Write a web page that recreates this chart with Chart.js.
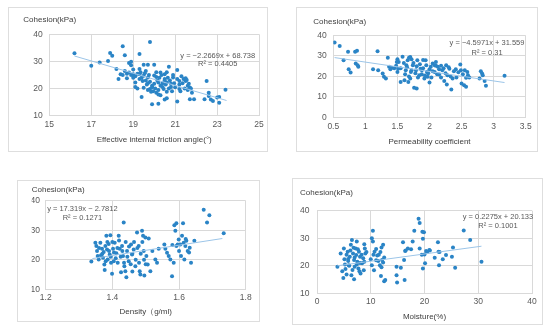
<!DOCTYPE html>
<html><head><meta charset="utf-8">
<script src="https://cdn.jsdelivr.net/npm/chart.js@4"></script>
<style>
html,body{margin:0;padding:0;background:#fff;}
body{width:550px;height:331px;position:relative;overflow:hidden;}
.frame{position:absolute;box-sizing:border-box;border:1px solid #dedede;pointer-events:none;}
canvas{position:absolute;}
</style></head><body>
<script>
// ---------- DATA ----------
const yTitle = "Cohesion(kPa)";

// Panel 1: effective internal friction angle
const angleTitle = "Effective internal friction angle(°)";
const angleX = [16.2,17.0,17.4,17.8,17.9,18.0,18.2,18.3,18.4,18.5,18.6,18.7,18.6,18.8,18.9,18.8,18.9,19.0,19.1,19.1,19.3,19.3,19.3,19.4,19.5,19.5,19.6,19.7,19.7,19.8,19.8,19.9,19.9,20.0,20.1,20.1,20.2,20.2,20.3,20.4,20.5,20.5,20.6,20.6,20.7,20.8,20.9,21.1,21.1,21.2,21.2,21.4,21.5,21.6,21.7,21.7,21.9,22.4,22.5,22.6,22.6,22.8,23.0,23.1,23.1,23.4,
  18.9,19.0,19.1,19.2,19.3,19.35,19.4,19.45,19.55,19.6,19.65,19.7,19.75,19.8,19.85,19.9,19.95,20.0,20.0,20.05,20.1,20.15,20.2,20.25,20.3,20.3,20.35,20.4,20.45,20.5,20.55,20.6,20.6,20.65,20.7,20.75,20.8,20.85,20.9,20.95,21.0,21.1,21.2,21.25,21.3,21.35,21.45,21.5,21.55,21.6,21.65,21.75,21.8,19.5,19.7,20.2,20.5,22.7,19.2,18.5,18.7,19.0];
const angleY = [33.0,28.4,29.6,30.2,33.1,32.1,27.2,23.5,25.3,35.6,32.3,23.8,26.5,29.4,29.9,25.9,28.6,25.3,22.2,20.6,27.2,32.7,25.3,16.9,24.7,28.8,26.5,24.1,28.8,37.2,19.8,21.0,14.2,28.8,24.3,18.5,14.4,22.2,25.9,20.6,23.5,25.3,16.4,22.2,28.0,20.6,24.1,15.2,26.8,22.8,19.8,23.5,23.8,21.0,16.1,20.4,16.1,16.1,22.8,18.5,17.3,15.4,16.7,16.9,14.8,19.6,
  25.0,27.0,24.5,25.5,23.5,26.0,24.0,22.8,25.6,23.0,21.5,19.5,25.0,22.5,18.8,20.5,19.0,24.8,21.8,20.0,26.0,23.0,19.5,24.0,21.0,17.5,25.0,22.0,19.8,23.0,21.5,26.0,18.8,24.0,20.0,23.0,21.8,19.0,25.0,22.0,20.5,23.5,21.5,19.0,24.5,22.0,20.0,22.8,23.2,19.5,21.8,20.0,18.5,20.3,22.0,17.8,16.0,16.0,20.0,25.0,25.5,24.0];
const angleTicksX = [15,17,19,21,23,25];
const angleTicksY = [10,20,30,40];
const angleTrendX = [16.2,23.45];
const angleTrendY = [32.0,15.6];
const angleEq = ["y = −2.2669x + 68.738","R² = 0.4405"];

// Panel 2: permeability coefficient
const permTitle = "Permeability coefficient";
const permX = [0.52,0.60,0.66,0.73,0.74,0.77,0.84,0.87,0.85,0.88,0.89,1.12,1.19,1.20,1.27,1.29,1.32,1.35,1.37,1.39,1.41,1.48,1.49,1.50,1.50,1.51,1.55,1.58,1.61,1.63,1.64,1.66,1.67,1.68,1.70,1.71,1.72,1.74,1.76,1.79,1.80,1.81,1.84,1.86,1.88,1.92,1.94,1.96,1.97,2.00,2.02,2.05,2.08,2.10,2.13,2.15,2.18,2.20,2.23,2.26,2.28,2.31,2.34,2.36,2.41,2.48,2.49,2.50,2.54,2.57,2.59,2.60,2.57,2.78,2.80,2.82,2.83,2.86,2.88,3.17,
  1.52,1.55,1.60,1.62,1.65,1.68,1.72,1.75,1.78,1.80,1.82,1.85,1.88,1.90,1.93,1.95,1.98,2.00,2.03,2.05,2.08,2.12,2.15,2.18,2.22,2.25,2.30,2.33,2.38,2.42,2.45,2.52,2.55,2.62,1.45,1.70,1.90,2.10,2.27];
const permY = [36.6,34.9,27.9,32.0,23.5,21.9,32.0,32.5,26.3,25.5,24.7,23.5,32.3,23.0,21.4,19.8,19.0,29.1,24.7,23.5,24.2,25.2,27.1,28.4,22.2,23.8,17.3,29.6,18.1,23.0,25.5,27.9,17.3,29.1,19.0,22.2,28.4,25.5,14.4,23.0,14.1,27.9,20.6,23.8,23.0,19.0,27.9,22.2,19.8,17.0,24.7,26.3,22.2,25.2,24.7,20.9,25.2,23.0,17.7,25.5,20.6,23.8,13.6,19.0,23.5,25.8,23.0,16.5,15.7,14.9,22.2,20.6,19.3,19.0,22.5,21.4,20.6,17.7,15.4,20.3,
  27.0,24.0,26.5,21.0,24.5,20.0,23.0,26.5,21.5,25.0,19.5,26.0,21.0,24.0,20.5,25.5,21.5,23.5,19.5,22.5,25.5,21.0,23.5,19.5,24.0,21.5,24.5,20.0,22.5,19.5,22.0,21.0,23.0,19.5,24.0,29.5,28.0,27.0,16.0];
const permTicksX = [0.5,1,1.5,2,2.5,3,3.5];
const permTicksY = [0,10,20,30,40];
const permTrendX = [0.52,3.17];
const permTrendY = [29.2,17.0];
const permEq = ["y = −4.5971x + 31.559","R² = 0.31"];

// Panel 3: density
const densTitle = "Density（g/ml)";
const densX = [1.337,1.349,1.352,1.354,1.356,1.359,1.364,1.366,1.369,1.372,1.374,1.376,1.377,1.379,1.382,1.384,1.386,1.389,1.392,1.394,1.396,1.399,1.402,1.404,1.407,1.412,1.416,1.419,1.422,1.426,1.429,1.432,1.434,1.436,1.439,1.442,1.444,1.449,1.456,1.459,1.464,1.469,1.474,1.479,1.482,1.484,1.489,1.492,1.494,1.496,1.499,1.502,1.506,1.509,1.514,1.529,1.534,1.539,1.556,1.559,1.564,1.569,1.574,1.579,1.584,1.586,1.592,1.589,1.592,1.596,1.599,1.604,1.606,1.609,1.612,1.614,1.616,1.619,1.622,1.626,1.632,1.636,1.646,1.674,1.684,1.691,1.734,
  1.36,1.37,1.38,1.385,1.39,1.395,1.40,1.405,1.41,1.415,1.42,1.425,1.43,1.435,1.44,1.445,1.45,1.455,1.46,1.465,1.47,1.475,1.48,1.485,1.49,1.495,1.50,1.46,1.52,1.60,1.58,1.62,1.63];
const densY = [19.4,25.8,24.7,23.0,21.3,20.1,25.8,21.5,23.75,20.7,22.6,18.4,16.5,24.7,28.1,23.5,20.1,25.3,21.8,28.3,19.0,15.3,23.75,19.5,25.8,22.2,19.0,28.1,23.75,15.8,24.7,21.3,32.6,17.8,16.1,14.1,23.0,19.5,25.2,21.8,23.5,17.8,29.2,24.7,16.1,15.0,29.8,28.1,23.0,14.7,27.5,21.3,18.4,27.2,16.1,20.1,19.0,23.75,25.2,23.75,22.4,21.3,20.1,14.4,19.0,31.7,32.4,29.8,24.7,25.2,26.9,25.2,21.3,28.1,32.4,25.8,20.1,24.7,26.4,23.0,24.1,19.0,26.4,36.9,32.6,35.1,29.0,
  24.0,22.0,19.5,26.0,23.0,21.0,26.0,22.5,20.5,24.0,26.5,21.0,23.0,19.0,26.0,21.0,24.5,18.5,22.0,26.0,20.0,24.0,19.0,22.0,26.0,20.0,18.5,16.0,23.0,23.0,25.0,27.0,22.5];
const densTicksX = [1.2,1.4,1.6,1.8];
const densTicksY = [10,20,30,40];
const densTrendX = [1.34,1.73];
const densTrendY = [20.4,27.2];
const densEq = ["y = 17.319x − 2.7812","R² = 0.1271"];

// Panel 4: moisture
const moistTitle = "Moisture(%)";
const moistX = [3.8,4.4,4.7,4.9,5.0,5.1,5.2,5.3,5.5,5.7,5.8,5.9,6.1,6.3,6.4,6.5,6.7,6.9,6.9,7.0,7.2,7.3,7.4,7.5,7.7,7.8,8.0,8.1,8.4,8.6,8.8,8.9,8.7,9.0,10.4,10.2,10.4,10.0,10.2,10.6,10.7,11.0,11.2,11.4,11.5,11.7,11.9,12.0,12.1,12.3,12.3,12.5,12.7,14.8,14.8,14.9,15.6,16.0,16.2,16.3,16.4,16.9,17.8,18.1,18.9,19.1,19.1,19.6,19.7,19.7,19.9,20.0,20.1,20.3,20.9,21.9,22.5,22.6,22.7,23.4,24.0,25.1,25.3,25.7,27.3,28.5,30.6,
  5.5,6.0,6.2,6.6,7.0,7.4,7.6,8.0,8.3,8.8,9.2,5.8,6.8,7.9,11.0,11.8,12.5,10.5,12.0,16.5,17.5,20.5,22.8,19.5,21.0];
const moistY = [19.6,24.5,18.0,15.6,26.3,22.4,20.5,18.8,16.8,25.1,21.7,20.2,23.3,27.6,16.6,29.4,24.5,22.1,15.1,19.6,26.3,23.9,28.8,21.5,19.0,25.1,23.3,17.2,20.9,22.7,27.8,26.3,18.4,24.5,32.7,30.0,28.8,22.4,20.2,18.4,25.1,26.1,23.7,21.7,24.0,20.2,16.3,26.6,22.1,27.6,21.2,14.4,14.8,19.6,16.6,13.9,19.3,28.5,22.1,14.8,25.4,26.3,28.8,32.7,37.1,35.5,26.3,32.4,29.8,19.0,32.2,24.1,20.9,25.4,25.7,22.9,28.5,25.1,20.2,22.4,23.9,23.3,26.6,19.3,32.8,29.4,21.5,
  24.0,20.0,25.5,18.5,23.0,20.5,26.0,21.0,24.0,21.5,25.0,22.5,26.5,18.0,22.0,25.0,23.0,24.0,19.5,25.5,26.0,25.0,25.0,24.0,25.5];
const moistTicksX = [0,10,20,30,40];
const moistTicksY = [10,20,30,40];
const moistTrendX = [3.8,30.6];
const moistTrendY = [20.0,27.1];
const moistEq = ["y = 0.2275x + 20.133","R² = 0.1001"];

// ---------- LAYOUT / STYLE ----------
const FONT = "'Liberation Sans', Arial, sans-serif";
const DOT = '#2A84C6';
const TREND = '#9CC5E8';
const GRID = '#d9d9d9';

const panels = [
  {xs:angleX, ys:angleY, tx:angleTicksX, ty:angleTicksY, trX:angleTrendX, trY:angleTrendY, eq:angleEq, xTitle:angleTitle,
   box:{x:8,y:7,w:260,h:145}, plot:{l:49.3,r:259.5,t:34.3,b:115.7}, titleX:23.3, titleCY:20, xTitleCY:140, tickCY:125, yGap:6.5,
   eqPos:{x:23.03, y1:32.1, y2:28.9}},
  {xs:permX, ys:permY, tx:permTicksX, ty:permTicksY, trX:permTrendX, trY:permTrendY, eq:permEq, xTitle:permTitle,
   box:{x:296,y:7,w:242,h:145}, plot:{l:333.3,r:525.7,t:35.5,b:117.3}, titleX:313.3, titleCY:21.7, xTitleCY:142, tickCY:126.7, yGap:6.5,
   eqPos:{x:2.897, y1:36.2, y2:31.5}},
  {xs:densX, ys:densY, tx:densTicksX, ty:densTicksY, trX:densTrendX, trY:densTrendY, eq:densEq, xTitle:densTitle,
   box:{x:17,y:180,w:243,h:142}, plot:{l:45.7,r:245.7,t:200.7,b:289.3}, titleX:31.7, titleCY:190, xTitleCY:311.7, tickCY:297.3, yGap:5.7,
   eqPos:{x:1.310, y1:37.36, y2:34.31}},
  {xs:moistX, ys:moistY, tx:moistTicksX, ty:moistTicksY, trX:moistTrendX, trY:moistTrendY, eq:moistEq, xTitle:moistTitle,
   box:{x:292,y:178,w:251,h:147}, plot:{l:317,r:532,t:210.7,b:293.3}, titleX:300, titleCY:193, xTitleCY:316.7, tickCY:301.7, yGap:7.5,
   eqPos:{x:33.67, y1:37.82, y2:34.63}}
];

const eqPlugin = {
  id:'eqText',
  afterDatasetsDraw(chart, args, opts){
    if(!opts || !opts.lines) return;
    const ctx = chart.ctx, xs = chart.scales.x, ys = chart.scales.y;
    ctx.save();
    ctx.font = "7.5px " + FONT;
    ctx.fillStyle = '#595959';
    ctx.textAlign = 'center';
    ctx.textBaseline = 'middle';
    opts.lines.forEach(l => ctx.fillText(l.text, xs.getPixelForValue(l.x), ys.getPixelForValue(l.y)));
    ctx.restore();
  }
};

const TFS = 8, TLH = TFS*1.2, KFS = 8.5, KLH = KFS*1.2;

panels.forEach((p, i) => {
  const frame = document.createElement('div');
  frame.className = 'frame';
  Object.assign(frame.style, {left:p.box.x+'px', top:p.box.y+'px', width:p.box.w+'px', height:p.box.h+'px'});
  const cv = document.createElement('canvas');
  cv.width = p.box.w; cv.height = p.box.h;
  Object.assign(cv.style, {left:p.box.x+'px', top:p.box.y+'px', width:p.box.w+'px', height:p.box.h+'px'});
  document.body.appendChild(cv);
  document.body.appendChild(frame);

  const padTop = p.titleCY - p.box.y - TLH/2;
  const titlePadBottom = (p.plot.t - p.box.y) - padTop - TLH;
  const padLeft = p.titleX - p.box.x;
  const yWidth = p.plot.l - p.titleX;
  const padRight = p.box.x + p.box.w - p.plot.r;
  const padBottom = p.box.y + p.box.h - p.xTitleCY - TLH/2;
  const xHeight = (p.box.y + p.box.h - padBottom) - p.plot.b;
  const xTickPad = p.tickCY - p.plot.b - KLH/2;

  const pts = p.xs.map((x, k) => ({x, y:p.ys[k]}));
  const trend = p.trX.map((x, k) => ({x, y:p.trY[k]}));

  new Chart(cv, {
    type:'scatter',
    data:{datasets:[
      {type:'line', data:trend, borderColor:TREND, borderWidth:1, pointRadius:0, fill:false, order:0},
      {data:pts, backgroundColor:DOT, borderWidth:0, pointRadius:2, order:1}
    ]},
    options:{
      responsive:false, animation:false, events:[],
      layout:{padding:{left:padLeft, right:padRight, top:padTop, bottom:padBottom}},
      plugins:{
        legend:{display:false}, tooltip:{enabled:false},
        title:{display:true, text:yTitle, align:'start', color:'#404040',
               font:{family:FONT, size:TFS, weight:'normal'}, padding:{top:0, bottom:titlePadBottom}},
        eqText:{lines:[{text:p.eq[0], x:p.eqPos.x, y:p.eqPos.y1},{text:p.eq[1], x:p.eqPos.x, y:p.eqPos.y2}]}
      },
      scales:{
        x:{type:'linear', min:p.tx[0], max:p.tx[p.tx.length-1],
           afterBuildTicks:s => { s.ticks = p.tx.map(v => ({value:v})); },
           afterFit:s => { s.height = xHeight; },
           grid:{color:GRID, drawTicks:false, lineWidth:1},
           border:{color:GRID},
           ticks:{color:'#595959', font:{family:FONT, size:KFS}, padding:xTickPad, maxRotation:0, autoSkip:false,
                  callback:v => String(+(+v).toFixed(2))},
           title:{display:true, text:p.xTitle, color:'#404040', font:{family:FONT, size:TFS}, padding:0}},
        y:{type:'linear', min:p.ty[0], max:p.ty[p.ty.length-1],
           afterBuildTicks:s => { s.ticks = p.ty.map(v => ({value:v})); },
           afterFit:s => { s.width = yWidth; },
           grid:{color:GRID, drawTicks:false, lineWidth:1},
           border:{color:GRID},
           ticks:{color:'#595959', font:{family:FONT, size:KFS}, padding:p.yGap, autoSkip:false}}
      }
    },
    plugins:[eqPlugin]
  });
});
</script>
</body></html>
